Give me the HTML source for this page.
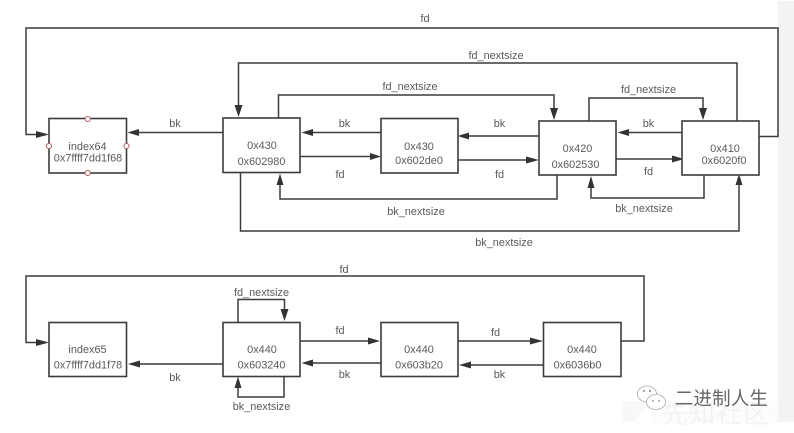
<!DOCTYPE html>
<html>
<head>
<meta charset="utf-8">
<style>
html,body{margin:0;padding:0;background:#fff;width:794px;height:433px;overflow:hidden}
svg{display:block;position:absolute;left:0;top:0;filter:blur(.3px)}
text{font-family:"Liberation Sans","Noto Sans CJK SC",sans-serif;font-size:10.9px;fill:#5a5a5a;text-anchor:middle}
.b{fill:#fff;stroke:#3c3c3c;stroke-width:1.6}
.l{fill:none;stroke:#3c3c3c;stroke-width:1.5}
.a{fill:#333}
</style>
</head>
<body>
<svg width="794" height="433" viewBox="0 0 794 433">
<rect x="778" y="1" width="16" height="421" fill="#f3f3f3"/>

<!-- watermark -->
<polygon points="622,422 622,401 650,401 650,422" fill="#f8f8f8"/>
<polygon points="633,423 647,406 652,423" fill="#fff"/>
<rect x="650" y="401" width="128" height="22" fill="#fcfcfc"/>
<text x="716" y="423" style="font-size:26px;fill:#f3f3f3;letter-spacing:1px;text-anchor:middle">先知社区</text>
<g fill="#fff" stroke="#aaa" stroke-width=".8">
<ellipse cx="647" cy="394" rx="9.5" ry="8"/>
<ellipse cx="656" cy="402" rx="9.5" ry="7.5"/>
</g>
<circle cx="644" cy="391" r="1" fill="#888"/><circle cx="650" cy="391" r="1" fill="#888"/>
<circle cx="653" cy="401" r=".9" fill="#888"/><circle cx="659" cy="401" r=".9" fill="#888"/>
<text x="721.5" y="405" style="font-size:18.5px;fill:#666;letter-spacing:.2px">二进制人生</text>

<!-- top row connectors -->
<polyline class="l" points="759,136.5 778,136.5 778,28 26,28 26,134.5 40,134.5"/>
<polyline class="l" points="737,121 737,63 238.5,63 238.5,108"/>
<polyline class="l" points="278.5,118 278.5,95 554,95 554,111"/>
<polyline class="l" points="589,121 589,98 703,98 703,111"/>
<polyline class="l" points="557,175 557,199 280,199 280,182"/>
<polyline class="l" points="704,175 704,198 591,198 591,185"/>
<polyline class="l" points="240.5,172 240.5,231 739,231 739,185"/>
<line class="l" x1="223" y1="132.5" x2="137" y2="132.5"/>
<line class="l" x1="381" y1="132.5" x2="311" y2="132.5"/>
<line class="l" x1="539" y1="136" x2="468" y2="136"/>
<line class="l" x1="682" y1="132.5" x2="627" y2="132.5"/>
<line class="l" x1="300" y1="156.5" x2="372" y2="156.5"/>
<line class="l" x1="458" y1="160" x2="530" y2="160"/>
<line class="l" x1="616" y1="159" x2="674" y2="159"/>

<!-- top row arrowheads -->
<polygon class="a" points="49,134.5 36,131 36,138"/>
<polygon class="a" points="127.5,132.5 139,129 139,136"/>
<polygon class="a" points="301.5,132.5 313,129 313,136"/>
<polygon class="a" points="457.5,136 469,132.5 469,139.5"/>
<polygon class="a" points="617.5,132.5 629,129 629,136"/>
<polygon class="a" points="381,156.5 370,153 370,160"/>
<polygon class="a" points="539,160 526,156.5 526,163.5"/>
<polygon class="a" points="684,159 672,155.5 672,162.5"/>
<polygon class="a" points="238.5,117 234.5,105 242.5,105"/>
<polygon class="a" points="554,120 550,108 558,108"/>
<polygon class="a" points="703,120 699,108 707,108"/>
<polygon class="a" points="280,173.5 276.5,185 283.5,185"/>
<polygon class="a" points="591,176 587.5,188 594.5,188"/>
<polygon class="a" points="739,174 735.5,185 742.5,185"/>

<!-- top row boxes -->
<rect class="b" x="49" y="118.5" width="77.5" height="54.5"/>
<rect class="b" x="223" y="118" width="77" height="54.5"/>
<rect class="b" x="381" y="118.5" width="77" height="54.5"/>
<rect class="b" x="539" y="121" width="77" height="54"/>
<rect class="b" x="682" y="121" width="77" height="54"/>

<g fill="#fff" stroke="#b5504f" stroke-width=".9">
<circle cx="87.7" cy="119" r="2.6"/>
<circle cx="87.7" cy="173" r="2.6"/>
<circle cx="49" cy="146" r="2.6"/>
<circle cx="126.5" cy="146" r="2.6"/>
</g>

<!-- top row text -->
<text x="87.5" y="150">index64</text>
<text x="88" y="161.5">0x7ffff7dd1f68</text>
<text x="262" y="149">0x430</text>
<text x="261.5" y="165">0x602980</text>
<text x="419" y="150">0x430</text>
<text x="419" y="164">0x602de0</text>
<text x="577.5" y="152">0x420</text>
<text x="575.5" y="168">0x602530</text>
<text x="725" y="152">0x410</text>
<text x="724" y="164">0x6020f0</text>
<text x="425" y="22">fd</text>
<text x="496" y="59">fd_nextsize</text>
<text x="410" y="90">fd_nextsize</text>
<text x="648.5" y="93">fd_nextsize</text>
<text x="175" y="127">bk</text>
<text x="344.5" y="127">bk</text>
<text x="499.5" y="127">bk</text>
<text x="648.5" y="127">bk</text>
<text x="340" y="178">fd</text>
<text x="499.5" y="178">fd</text>
<text x="648.5" y="175">fd</text>
<text x="416" y="215">bk_nextsize</text>
<text x="644" y="212">bk_nextsize</text>
<text x="504" y="246">bk_nextsize</text>

<!-- bottom row connectors -->
<polyline class="l" points="621,341 644,341 644,276 26,276 26,342.5 40,342.5"/>
<polyline class="l" points="238,322 238,299.5 284.5,299.5 284.5,312"/>
<polyline class="l" points="284,376 284,397 238,397 238,386"/>
<line class="l" x1="300" y1="341" x2="372" y2="341"/>
<line class="l" x1="458" y1="341" x2="535" y2="341"/>
<line class="l" x1="381" y1="363" x2="311" y2="363"/>
<line class="l" x1="543.5" y1="365" x2="469" y2="365"/>
<line class="l" x1="223" y1="364" x2="137" y2="364"/>

<polygon class="a" points="49,342.5 36,339 36,346"/>
<polygon class="a" points="284.5,321 280.5,309 288.5,309"/>
<polygon class="a" points="238,376.5 234.5,388 241.5,388"/>
<polygon class="a" points="380,341 368,337.5 368,344.5"/>
<polygon class="a" points="543,341 530,337.5 530,344.5"/>
<polygon class="a" points="301.5,363 313,359.5 313,366.5"/>
<polygon class="a" points="459,365 471,361.5 471,368.5"/>
<polygon class="a" points="128,364 140,360.5 140,367.5"/>

<rect class="b" x="49" y="322.5" width="77.5" height="54"/>
<rect class="b" x="223" y="322.5" width="77" height="54"/>
<rect class="b" x="381" y="322.5" width="77" height="54"/>
<rect class="b" x="543.5" y="322.5" width="77.5" height="54"/>

<text x="87.5" y="353">index65</text>
<text x="88" y="368.5">0x7ffff7dd1f78</text>
<text x="262" y="353">0x440</text>
<text x="261.5" y="368.5">0x603240</text>
<text x="419" y="353">0x440</text>
<text x="419" y="368.5">0x603b20</text>
<text x="582" y="353">0x440</text>
<text x="577.5" y="368.5">0x6036b0</text>
<text x="344" y="273">fd</text>
<text x="261.5" y="296">fd_nextsize</text>
<text x="261.5" y="410">bk_nextsize</text>
<text x="340" y="334">fd</text>
<text x="495.5" y="336">fd</text>
<text x="175" y="381">bk</text>
<text x="344.5" y="378">bk</text>
<text x="499.5" y="378">bk</text>
</svg>
</body>
</html>
